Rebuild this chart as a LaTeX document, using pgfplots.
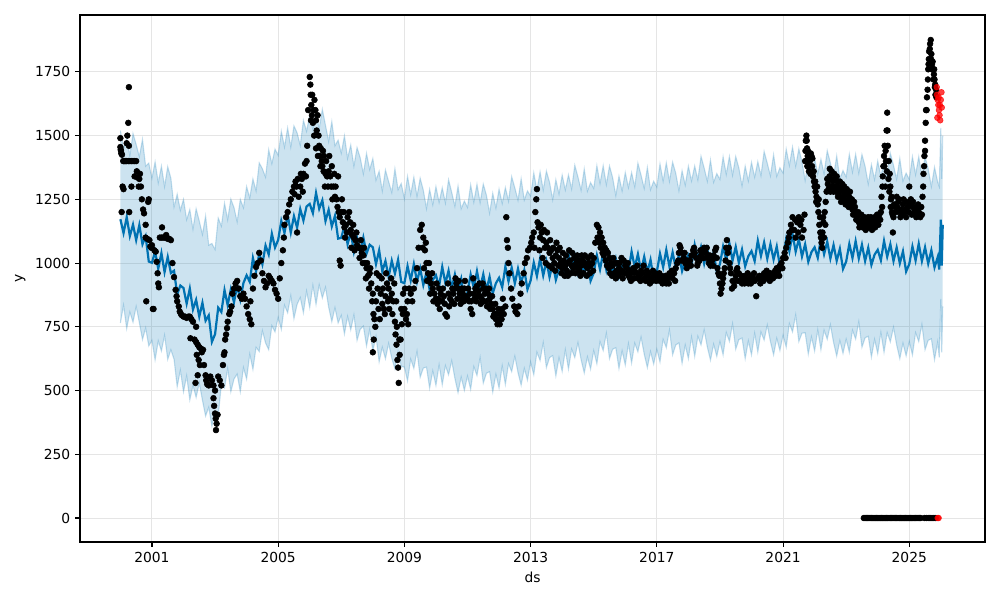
\documentclass[border=0pt]{standalone}
\usepackage{fontspec}
\setmainfont{DejaVu Sans}
\usepackage{pgfplots}
\usepackage{pgfplotstable}
\pgfplotsset{compat=1.18}
\usepgfplotslibrary{fillbetween}
\definecolor{fc}{HTML}{0072B2}

% forecast: yhat with lower / upper bounds
\pgfplotstableread{
ds yhat lo up
2000.0 1172 765 1520
2000.1 1118 835 1447
2000.2 1180 743 1490
2000.3 1106 808 1421
2000.4 1151 768 1508
2000.5 1090 830 1465
2000.6 1149 767 1417
2000.7 1074 700 1485
2000.8 1105 745 1380
2000.9 1006 675 1392
2001.0 1001 697 1333
2001.1 1045 620 1397
2001.2 978 695 1315
2001.3 1039 655 1380
2001.4 965 717 1300
2001.5 1024 622 1378
2001.6 961 660 1333
2001.7 970 623 1220
2001.8 877 515 1270
2001.9 912 580 1207
2002.0 902 495 1250
2002.1 841 558 1170
2002.2 900 463 1210
2002.3 818 520 1133
2002.4 856 473 1213
2002.5 790 530 1165
2002.6 844 462 1112
2002.7 774 400 1185
2002.8 795 435 1070
2002.9 691 360 1077
2003.0 721 417 1053
2003.1 825 400 1177
2003.2 808 525 1145
2003.3 894 510 1235
2003.4 835 587 1170
2003.5 897 495 1251
2003.6 846 545 1218
2003.7 912 565 1162
2003.8 857 495 1250
2003.9 922 590 1217
2004.0 952 545 1300
2004.1 926 643 1255
2004.2 1020 583 1330
2004.3 968 670 1283
2004.4 1036 653 1393
2004.5 995 735 1370
2004.6 1069 687 1337
2004.7 1034 660 1445
2004.8 1115 755 1390
2004.9 1061 730 1447
2005.0 1091 787 1423
2005.1 1165 740 1517
2005.2 1118 835 1455
2005.3 1189 805 1530
2005.4 1120 872 1455
2005.5 1184 782 1538
2005.6 1139 838 1511
2005.7 1212 865 1462
2005.8 1167 805 1560
2005.9 1222 890 1517
2006.0 1232 825 1580
2006.1 1196 913 1525
2006.2 1275 838 1585
2006.3 1213 915 1528
2006.4 1246 863 1603
2006.5 1165 905 1540
2006.6 1209 827 1477
2006.7 1144 770 1555
2006.8 1185 825 1460
2006.9 1096 765 1482
2007.0 1099 795 1431
2007.1 1147 722 1499
2007.2 1074 791 1411
2007.3 1122 738 1463
2007.4 1045 797 1380
2007.5 1099 697 1453
2007.6 1041 740 1413
2007.7 1100 753 1350
2007.8 1037 675 1430
2007.9 1072 740 1367
2008.0 1062 655 1410
2008.1 996 713 1325
2008.2 1050 613 1360
2008.3 968 670 1283
2008.4 1008 625 1365
2008.5 945 685 1320
2008.6 1009 627 1277
2008.7 959 585 1370
2008.8 1013 653 1288
2008.9 926 595 1312
2009.0 921 592 1253
2009.1 988 538 1340
2009.2 932 624 1269
2009.3 996 587 1337
2009.4 927 654 1262
2009.5 979 552 1333
2009.6 914 588 1286
2009.7 964 592 1214
2009.8 896 509 1289
2009.9 934 577 1229
2010.0 952 520 1300
2010.1 909 601 1238
2010.2 985 523 1295
2010.3 921 598 1236
2010.4 970 562 1327
2010.5 902 617 1277
2010.6 955 548 1223
2010.7 891 492 1302
2010.8 938 553 1213
2010.9 857 501 1243
2011.0 886 557 1218
2011.1 955 505 1307
2011.2 902 594 1239
2011.3 968 559 1309
2011.4 902 629 1237
2011.5 956 529 1310
2011.6 894 568 1266
2011.7 946 574 1196
2011.8 881 494 1274
2011.9 921 564 1216
2012.0 942 510 1290
2012.1 905 597 1234
2012.2 986 524 1296
2012.3 928 605 1243
2012.4 982 574 1339
2012.5 920 635 1295
2012.6 978 571 1246
2012.7 920 521 1331
2012.8 972 587 1247
2012.9 897 541 1283
2013.0 931 612 1263
2013.1 1002 562 1354
2013.2 949 651 1286
2013.3 1017 618 1358
2013.4 951 688 1286
2013.5 1007 590 1361
2013.6 945 629 1317
2013.7 999 637 1249
2013.8 934 557 1327
2013.9 976 629 1271
2014.0 997 575 1345
2014.1 958 660 1287
2014.2 1036 584 1346
2014.3 976 663 1291
2014.4 1027 629 1384
2014.5 963 688 1338
2014.6 1018 621 1286
2014.7 958 569 1369
2014.8 1007 632 1282
2014.9 930 584 1316
2015.0 961 657 1293
2015.1 1030 605 1382
2015.2 975 692 1312
2015.3 1041 657 1382
2015.4 973 725 1308
2015.5 1027 625 1381
2015.6 963 662 1335
2015.7 1015 668 1265
2015.8 948 586 1341
2015.9 988 656 1283
2016.0 1007 600 1355
2016.1 967 684 1296
2016.2 1045 608 1355
2016.3 984 686 1299
2016.4 1035 652 1392
2016.5 970 710 1345
2016.6 1025 643 1293
2016.7 964 590 1375
2016.8 1013 653 1288
2016.9 935 604 1321
2017.0 966 662 1298
2017.1 1037 612 1389
2017.2 984 701 1321
2017.3 1052 668 1393
2017.4 986 738 1321
2017.5 1042 640 1396
2017.6 980 679 1352
2017.7 1034 687 1284
2017.8 969 607 1362
2017.9 1011 679 1306
2018.0 1032 625 1380
2018.1 993 710 1322
2018.2 1071 634 1381
2018.3 1011 713 1326
2018.4 1062 679 1419
2018.5 998 738 1373
2018.6 1053 671 1321
2018.7 993 619 1404
2018.8 1042 682 1317
2018.9 965 634 1351
2019.0 996 692 1328
2019.1 1065 640 1417
2019.2 1011 728 1348
2019.3 1077 693 1418
2019.4 1010 762 1345
2019.5 1064 662 1418
2019.6 1001 700 1373
2019.7 1053 706 1303
2019.8 987 625 1380
2019.9 1027 695 1322
2020.0 1047 640 1395
2020.1 1008 725 1337
2020.2 1088 651 1398
2020.3 1028 730 1343
2020.4 1081 698 1438
2020.5 1017 757 1392
2020.6 1074 692 1342
2020.7 1014 640 1425
2020.8 1065 705 1340
2020.9 988 657 1374
2021.0 1021 717 1353
2021.1 1095 670 1447
2021.2 1046 763 1383
2021.3 1114 730 1455
2021.4 1045 797 1380
2021.5 1094 692 1448
2021.6 1026 725 1398
2021.7 1074 727 1324
2021.8 1005 643 1398
2021.9 1043 711 1338
2022.0 1062 655 1410
2022.1 1021 738 1350
2022.2 1097 660 1407
2022.3 1035 737 1350
2022.4 1084 701 1441
2022.5 1018 758 1393
2022.6 1071 689 1339
2022.7 1009 635 1420
2022.8 1056 696 1331
2022.9 977 646 1363
2023.0 1006 702 1338
2023.1 1075 650 1427
2023.2 1020 737 1357
2023.3 1086 702 1427
2023.4 1018 770 1353
2023.5 1072 670 1426
2023.6 1008 707 1380
2023.7 1060 713 1310
2023.8 993 631 1386
2023.9 1033 701 1328
2024.0 1052 645 1400
2024.1 1011 728 1340
2024.2 1087 650 1397
2024.3 1025 727 1340
2024.4 1074 691 1431
2024.5 1008 748 1383
2024.6 1061 679 1329
2024.7 999 625 1410
2024.8 1046 686 1321
2024.9 967 636 1353
2025.0 996 692 1328
2025.1 1065 640 1417
2025.2 1010 727 1347
2025.3 1076 692 1417
2025.4 1008 760 1343
2025.5 1062 660 1416
2025.6 998 697 1370
2025.7 1050 703 1300
2025.8 983 621 1376
2025.9 1023 691 1318
2025.95 975 630 1300
2026.00 1170 860 1530
2026.03 990 650 1330
2026.06 1150 830 1500
}\fcst

\begin{document}
\begin{tikzpicture}
\begin{axis}[
    scale only axis,
    width=9.05in, height=5.27in,
    xmin=1998.72, xmax=2027.4,
    ymin=-94, ymax=1973,
    xtick={2001,2005,...,2025},
    ytick={0,250,...,1750},
    /pgf/number format/1000 sep={},
    /pgf/number format/assume math mode=true,
    tick label style={font=\fontsize{10}{12}\selectfont},
    label style={font=\fontsize{10}{12}\selectfont},
    xlabel={ds}, ylabel={y},
    tick align=outside,
    xtick pos=bottom, ytick pos=left,
    major tick length=3.5pt,
    every tick/.style={black, line width=0.8pt},
    axis line style={line width=0.8pt},
    grid=major,
    major grid style={draw=black!10, line width=0.72pt},
]
% history
\addplot[only marks, mark=*, mark size=2.1pt, black] coordinates {
(2000.00,1490) (2000.00,1455) (2000.01,1445) (2000.02,1440) (2000.03,1430) (2000.05,1425) (2000.04,1200) (2000.07,1300) (2000.10,1290) (2000.09,1400) (2000.12,1400) (2000.16,1400)
(2000.20,1470) (2000.22,1500) (2000.25,1550) (2000.27,1690) (2000.27,1460) (2000.20,1400) (2000.25,1400) (2000.30,1400) (2000.35,1400) (2000.40,1400) (2000.45,1400) (2000.50,1400)
(2000.28,1200) (2000.35,1300) (2000.45,1340) (2000.52,1360) (2000.55,1335) (2000.60,1330) (2000.62,1350) (2000.58,1300) (2000.65,1300) (2000.68,1250) (2000.72,1210) (2000.75,1195)
(2000.80,1150) (2000.80,1100) (2000.85,1095) (2000.88,1240) (2000.90,1250) (2000.92,1090) (2000.82,850) (2000.95,1065) (2000.98,1060) (2001.00,1070) (2001.03,820) (2001.05,820)
(2001.08,1050) (2001.12,1045) (2001.15,1005) (2001.18,960) (2001.20,920) (2001.22,905) (2001.25,1100) (2001.30,1100) (2001.35,1100) (2001.40,1100) (2001.45,1110) (2001.32,1140)
(2001.50,1095) (2001.55,1095) (2001.60,1090) (2001.65,1000) (2001.70,945) (2001.75,895) (2001.78,870) (2001.80,850) (2001.85,830) (2001.88,810) (2001.92,800) (2001.95,795)
(2002.00,790) (2002.05,790) (2002.10,785) (2002.15,790) (2002.20,790) (2002.25,780) (2002.30,770) (2002.22,705) (2002.40,750) (2002.35,700) (2002.40,690) (2002.45,680)
(2002.50,670) (2002.55,665) (2002.42,640) (2002.48,620) (2002.52,600) (2002.38,530) (2002.45,560) (2002.58,650) (2002.62,660) (2002.65,600) (2002.70,560) (2002.72,540)
(2002.75,525) (2002.80,520) (2002.85,555) (2002.90,540) (2002.95,520) (2003.00,500) (2002.95,470) (2002.97,440) (2003.00,410) (2003.02,390) (2003.05,370) (2003.03,345)
(2003.08,405) (2003.10,555) (2003.15,540) (2003.20,520) (2003.25,600) (2003.28,640) (2003.30,650) (2003.32,700) (2003.35,720) (2003.38,745) (2003.40,770) (2003.45,800)
(2003.48,810) (2003.52,830) (2003.55,880) (2003.60,900) (2003.65,920) (2003.70,930) (2003.75,900) (2003.80,870) (2003.85,860) (2003.90,880) (2003.95,860) (2004.00,830)
(2004.05,800) (2004.10,780) (2004.15,760) (2004.12,850) (2004.20,900) (2004.25,950) (2004.30,985) (2004.35,1000) (2004.40,1040) (2004.45,1010) (2004.50,960) (2004.55,930)
(2004.60,905) (2004.65,920) (2004.70,950) (2004.75,940) (2004.80,930) (2004.85,920) (2004.90,895) (2004.95,880) (2005.00,860) (2005.05,940) (2005.10,1000) (2005.15,1050)
(2005.18,1100) (2005.20,1150) (2005.25,1180) (2005.30,1200) (2005.35,1230) (2005.40,1250) (2005.45,1280) (2005.50,1300) (2005.55,1320) (2005.58,1300) (2005.60,1120) (2005.65,1260)
(2005.70,1300) (2005.75,1330) (2005.80,1350) (2005.85,1390) (2005.90,1400) (2005.95,1600) (2006.00,1730) (2006.02,1700) (2006.03,1660) (2006.05,1620) (2006.07,1580) (2006.10,1550)
(2006.12,1600) (2006.15,1640) (2006.18,1600) (2006.20,1560) (2006.22,1520) (2006.25,1580) (2006.28,1500) (2006.30,1460) (2006.32,1420) (2006.35,1450) (2006.38,1400) (2006.40,1380)
(2006.42,1440) (2006.45,1420) (2006.50,1350) (2006.55,1340) (2006.60,1360) (2006.65,1340) (2006.70,1380) (2006.75,1300) (2006.80,1260) (2006.85,1250) (2006.90,1340) (2006.92,1200)
(2006.95,1180) (2007.00,1200) (2007.05,1160) (2007.10,1140) (2007.15,1150) (2007.20,1180) (2007.25,1200) (2007.30,1130) (2007.35,1110) (2007.40,1100) (2007.45,1090) (2006.95,1010)
(2006.98,990) (2007.50,1070) (2007.55,1060) (2007.60,1060) (2007.65,1040) (2007.70,1030) (2007.75,1000) (2007.80,980) (2007.85,950) (2007.90,960) (2007.95,920) (2008.00,880)
(2008.02,800) (2008.05,780) (2008.08,750) (2008.03,700) (2008.00,650) (2008.10,850) (2008.15,900) (2008.20,950) (2008.25,880) (2008.30,840) (2008.35,820) (2008.40,870)
(2008.45,920) (2008.50,900) (2008.55,860) (2008.60,880) (2008.65,850) (2008.70,770) (2008.72,720) (2008.75,680) (2008.78,620) (2008.80,590) (2008.82,530) (2008.85,640)
(2008.88,700) (2008.92,760) (2008.95,800) (2009.00,820) (2009.05,780) (2009.10,850) (2009.15,900) (2009.20,880) (2009.25,850) (2009.30,900) (2009.35,930) (2009.40,980)
(2009.45,1060) (2009.50,1130) (2009.55,1150) (2009.60,1100) (2009.65,1050) (2009.70,1000) (2009.75,960) (2009.80,940) (2009.85,920) (2009.90,900) (2009.95,880) (2010.00,860)
(2010.05,840) (2010.10,900) (2010.15,880) (2010.20,850) (2010.25,870) (2010.30,800) (2010.35,790) (2010.40,880) (2010.45,860) (2010.50,850) (2010.55,880) (2010.60,900)
(2010.65,920) (2010.70,900) (2010.75,880) (2010.80,860) (2010.85,880) (2010.90,900) (2010.95,870) (2011.00,860) (2011.05,850) (2011.10,820) (2011.15,800) (2011.20,880)
(2011.25,900) (2011.30,910) (2011.35,890) (2011.40,870) (2011.45,860) (2011.50,900) (2011.55,880) (2011.60,850) (2011.65,880) (2011.70,860) (2011.75,840) (2011.80,820)
(2011.85,800) (2011.90,780) (2011.95,760) (2012.00,780) (2012.05,800) (2012.10,820) (2012.15,800) (2012.20,830) (2012.23,1180) (2012.25,1090) (2012.28,1060) (2012.30,1000)
(2012.33,960) (2012.38,900) (2012.42,860) (2012.48,830) (2012.52,810) (2012.58,800) (2012.62,830) (2012.68,880) (2012.72,920) (2012.78,960) (2012.82,1000) (2012.88,1020)
(2012.92,1050) (2012.98,1060) (2013.02,1080) (2013.05,1100) (2013.10,1120) (2013.15,1200) (2013.18,1250) (2013.20,1290) (2013.22,1160) (2013.25,1140) (2013.30,1100) (2013.35,1120)
(2013.40,1090) (2013.45,1060) (2013.50,1080) (2013.55,1060) (2013.60,1040) (2013.65,1050) (2013.70,1020) (2013.75,1000) (2013.80,1030) (2013.85,1050) (2013.90,1020) (2013.95,1000)
(2014.00,980) (2014.05,1010) (2014.10,990) (2014.15,970) (2014.20,1000) (2014.25,1010) (2014.30,990) (2014.35,980) (2014.40,990) (2014.45,1000) (2014.50,980) (2014.55,970)
(2014.60,990) (2014.65,1010) (2014.70,1000) (2014.75,990) (2014.80,980) (2014.85,1000) (2014.90,990) (2014.95,1000) (2015.00,1020) (2015.05,1080) (2015.10,1150) (2015.15,1140)
(2015.20,1120) (2015.25,1100) (2015.30,1080) (2015.35,1060) (2015.40,1050) (2015.45,1040) (2015.50,1020) (2015.55,1000) (2015.60,990) (2015.65,960) (2015.70,940) (2015.75,1000)
(2015.80,980) (2015.85,960) (2015.90,970) (2015.95,1010) (2016.00,990) (2016.05,980) (2016.10,950) (2016.15,940) (2016.20,960) (2016.25,980) (2016.30,970) (2016.35,960)
(2016.40,940) (2016.45,950) (2016.50,970) (2016.55,960) (2016.60,940) (2016.65,930) (2016.70,950) (2016.75,960) (2016.80,940) (2016.85,930) (2016.90,950) (2016.95,960)
(2017.00,950) (2017.05,940) (2017.10,930) (2017.15,950) (2017.20,940) (2017.25,930) (2017.30,920) (2017.35,940) (2017.40,960) (2017.45,950) (2017.50,940) (2017.55,960)
(2017.60,980) (2017.65,1000) (2017.70,1040) (2017.75,1060) (2017.80,1040) (2017.85,1020) (2017.90,1000) (2017.95,980) (2018.00,990) (2018.05,1010) (2018.10,1030) (2018.15,1050)
(2018.20,1040) (2018.25,1020) (2018.30,1000) (2018.35,1010) (2018.40,1030) (2018.45,1050) (2018.50,1060) (2018.55,1040) (2018.60,1020) (2018.65,1000) (2018.70,990) (2018.75,1010)
(2018.80,1030) (2018.85,1050) (2018.90,1020) (2018.95,960) (2019.00,920) (2019.05,900) (2019.10,940) (2019.15,980) (2019.20,1060) (2019.22,1090) (2019.25,1040) (2019.30,1000)
(2019.35,960) (2019.40,930) (2019.45,910) (2019.50,950) (2019.55,980) (2019.60,960) (2019.65,930) (2019.70,920) (2019.75,940) (2019.80,950) (2019.85,930) (2019.90,920)
(2019.95,940) (2020.00,950) (2020.05,940) (2020.10,930) (2020.15,870) (2020.20,940) (2020.25,950) (2020.30,940) (2020.35,950) (2020.40,960) (2020.45,950) (2020.50,940)
(2020.55,950) (2020.60,960) (2020.65,950) (2020.70,960) (2020.75,970) (2020.80,980) (2020.85,970) (2020.90,990) (2020.95,1000) (2021.00,1020) (2021.05,1040) (2021.10,1060)
(2021.15,1080) (2021.20,1120) (2021.25,1150) (2021.30,1180) (2021.35,1130) (2021.40,1100) (2021.45,1160) (2021.50,1180) (2021.55,1150) (2021.60,1100) (2021.65,1130) (2021.68,1190)
(2021.70,1400) (2021.72,1480) (2021.74,1500) (2021.76,1450) (2021.78,1420) (2021.80,1380) (2021.82,1360) (2021.85,1400) (2021.88,1430) (2021.90,1420) (2021.92,1380) (2021.95,1340)
(2021.98,1320) (2022.00,1300) (2022.03,1280) (2022.06,1260) (2022.10,1230) (2022.12,1200) (2022.15,1150) (2022.18,1120) (2022.20,1100) (2022.22,1080) (2022.25,1120) (2022.28,1160)
(2022.32,1200) (2022.35,1240) (2022.38,1280) (2022.42,1310) (2022.45,1330) (2022.48,1370) (2022.52,1330) (2022.55,1300) (2022.58,1320) (2022.62,1350) (2022.65,1300) (2022.68,1280)
(2022.72,1320) (2022.75,1300) (2022.78,1280) (2022.82,1260) (2022.85,1290) (2022.88,1310) (2022.92,1280) (2022.95,1250) (2023.00,1270) (2023.05,1240) (2023.10,1260) (2023.15,1230)
(2023.20,1210) (2023.25,1240) (2023.30,1200) (2023.35,1180) (2023.40,1160) (2023.45,1150) (2023.50,1170) (2023.55,1160) (2023.60,1150) (2023.65,1170) (2023.70,1180) (2023.75,1160)
(2023.80,1150) (2023.85,1170) (2023.90,1180) (2023.95,1160) (2024.00,1170) (2024.05,1190) (2024.10,1200) (2024.12,1260) (2024.15,1300) (2024.18,1380) (2024.20,1420) (2024.22,1460)
(2024.25,1440) (2024.28,1520) (2024.30,1590) (2024.32,1460) (2024.35,1400) (2024.38,1350) (2024.40,1300) (2024.42,1250) (2024.45,1200) (2024.48,1120) (2024.50,1180) (2024.55,1220)
(2024.60,1260) (2024.65,1240) (2024.70,1200) (2024.75,1210) (2024.80,1230) (2024.85,1200) (2024.90,1180) (2024.95,1220) (2025.00,1300) (2025.05,1250) (2025.10,1220) (2025.15,1200)
(2025.20,1190) (2025.25,1210) (2025.30,1200) (2025.35,1180) (2025.40,1190) (2025.42,1260) (2025.45,1350) (2025.48,1420) (2025.50,1480) (2025.52,1550) (2025.55,1600) (2025.58,1680)
(2025.60,1760) (2025.62,1800) (2025.65,1840) (2025.68,1875) (2025.70,1820) (2025.72,1780) (2025.75,1760) (2025.78,1740) (2025.80,1720) (2025.82,1700) (2025.85,1680)
(2005.52,1270) (2005.62,1330) (2005.72,1350) (2005.78,1280) (2005.88,1340) (2005.92,1460) (2006.04,1560) (2006.08,1660) (2006.14,1500) (2006.20,1450) (2006.26,1420) (2006.34,1380)
(2006.44,1360) (2006.48,1300) (2006.52,1400) (2006.58,1300) (2006.62,1420) (2006.68,1300) (2006.72,1250) (2006.78,1350) (2006.82,1300) (2006.88,1220) (2007.02,1250) (2007.08,1200)
(2007.12,1100) (2007.18,1120) (2007.28,1160) (2007.32,1060) (2007.38,1150) (2007.42,1050) (2007.48,1120) (2007.58,1020) (2007.62,1090) (2007.68,1000) (2007.72,1060) (2007.78,940)
(2007.82,1000) (2007.88,900) (2007.92,980) (2007.98,850)
(2008.12,960) (2008.18,820) (2008.22,780) (2008.28,940) (2008.32,900) (2008.38,800) (2008.42,960) (2008.48,850) (2008.52,820) (2008.58,940) (2008.62,800) (2008.68,920)
(2008.74,850) (2008.76,750) (2008.84,700) (2008.90,820) (2008.96,880) (2009.02,900) (2009.08,800) (2009.12,760)
(2009.58,1060) (2009.62,980) (2009.68,1080) (2009.72,930) (2009.78,1000) (2009.82,880) (2009.88,960) (2009.92,850) (2010.02,920) (2010.08,860) (2010.12,820) (2010.22,900)
(2010.28,840) (2010.38,920) (2010.42,830) (2010.52,900) (2010.58,840) (2010.62,940) (2010.68,860) (2010.72,930) (2010.78,840) (2010.82,900) (2010.88,850) (2010.92,930)
(2011.02,900) (2011.08,880) (2011.12,850) (2011.18,940) (2011.22,860) (2011.28,850) (2011.32,870) (2011.38,920) (2011.42,840) (2011.48,920) (2011.52,850) (2011.58,900)
(2011.62,830) (2011.68,900) (2011.72,820) (2011.78,870) (2011.82,790) (2011.88,840) (2011.92,800) (2011.98,820) (2012.02,760) (2012.08,780) (2012.12,860)
(2013.12,1060) (2013.28,1050) (2013.32,1150) (2013.38,1020) (2013.42,1130) (2013.48,1000) (2013.52,1120) (2013.58,990) (2013.62,1090) (2013.68,980) (2013.72,1060) (2013.78,970)
(2013.82,1080) (2013.88,990) (2013.92,1060) (2013.98,960) (2014.02,1040) (2014.08,950) (2014.12,1030) (2014.18,950) (2014.22,1050) (2014.28,960) (2014.32,1040) (2014.38,1020)
(2014.42,960) (2014.48,1030) (2014.52,1010) (2014.58,950) (2014.62,1030) (2014.68,960) (2014.72,1030) (2014.78,950) (2014.82,1020) (2014.88,960) (2014.92,1030) (2014.98,970)
(2015.12,1100) (2015.18,1080) (2015.22,1060) (2015.28,1040) (2015.32,1030) (2015.38,1010) (2015.42,990) (2015.48,980) (2015.52,960) (2015.58,950) (2015.62,1020) (2015.68,1000)
(2015.72,970) (2015.78,950) (2015.82,1000) (2015.88,1020) (2015.92,940) (2015.98,960) (2016.08,1000) (2016.12,970) (2016.18,930) (2016.28,940) (2016.38,990) (2016.48,930)
(2016.58,990) (2016.68,970) (2016.78,920) (2016.88,970) (2016.98,930) (2017.08,960) (2017.18,920) (2017.28,950) (2017.38,920) (2017.48,970) (2017.58,930) (2017.68,1010)
(2017.72,1070) (2017.78,1010) (2017.88,1040) (2017.98,1010) (2018.08,990) (2018.18,1060) (2018.28,990) (2018.38,1050) (2018.48,1020) (2018.58,1060) (2018.68,1030) (2018.78,990)
(2018.88,1060) (2018.92,980) (2018.98,950) (2019.02,880) (2019.08,920) (2019.12,960) (2019.18,1010) (2019.28,1060) (2019.32,980) (2019.38,900) (2019.48,930) (2019.52,970)
(2019.58,930) (2019.68,950) (2019.78,920) (2019.88,960) (2019.98,920) (2020.08,960) (2020.28,920) (2020.38,930) (2020.48,970) (2020.58,930) (2020.68,940) (2020.78,950)
(2020.88,950) (2020.98,980) (2021.08,1020) (2021.18,1100) (2021.28,1130) (2021.38,1170) (2021.48,1120) (2021.58,1170)
(2021.71,1440) (2021.73,1400) (2021.75,1480) (2021.77,1380) (2021.79,1440) (2021.83,1420) (2021.87,1350) (2021.93,1410) (2021.97,1360) (2022.02,1320) (2022.05,1240) (2022.08,1300)
(2022.13,1250) (2022.17,1180) (2022.24,1060) (2022.27,1180) (2022.30,1100) (2022.34,1150) (2022.40,1330) (2022.44,1290) (2022.47,1340) (2022.50,1280) (2022.54,1360) (2022.60,1280)
(2022.64,1330) (2022.70,1340) (2022.74,1260) (2022.80,1320) (2022.84,1240) (2022.90,1260) (2022.94,1300) (2022.98,1230) (2023.02,1290) (2023.08,1220) (2023.12,1280) (2023.18,1250)
(2023.22,1190) (2023.28,1220) (2023.32,1170) (2023.38,1200) (2023.42,1140) (2023.48,1190) (2023.52,1140) (2023.58,1180) (2023.62,1130) (2023.68,1150) (2023.72,1140) (2023.78,1180)
(2023.82,1130) (2023.88,1150) (2023.92,1140) (2023.98,1190) (2024.02,1150) (2024.08,1170) (2024.14,1220) (2024.16,1340) (2024.21,1380) (2024.24,1300) (2024.26,1400) (2024.29,1360)
(2024.31,1520) (2024.34,1330) (2024.37,1280) (2024.41,1220) (2024.44,1260) (2024.47,1190) (2024.52,1230) (2024.58,1200) (2024.62,1220) (2024.68,1250) (2024.72,1180) (2024.78,1190)
(2024.82,1250) (2024.88,1210) (2024.92,1240) (2024.98,1200) (2025.02,1230) (2025.08,1190) (2025.12,1240) (2025.18,1220) (2025.22,1180) (2025.28,1230) (2025.32,1190) (2025.38,1220)
(2025.44,1300) (2025.47,1380) (2025.50,1440) (2025.53,1600) (2025.56,1650) (2025.59,1720) (2025.61,1780) (2025.63,1830) (2025.66,1860) (2025.69,1800) (2025.71,1760) (2025.74,1790)
(2025.77,1720) (2025.79,1760) (2025.81,1690) (2025.83,1660) (2025.86,1650)
(2023.56,0) (2023.60,0) (2023.64,0) (2023.68,0) (2023.72,0) (2023.76,0) (2023.80,0) (2023.84,0) (2023.88,0) (2023.92,0) (2023.96,0) (2024.00,0)
(2024.04,0) (2024.08,0) (2024.12,0) (2024.16,0) (2024.20,0) (2024.24,0) (2024.28,0) (2024.32,0) (2024.36,0) (2024.40,0) (2024.44,0) (2024.48,0)
(2024.52,0) (2024.56,0) (2024.60,0) (2024.64,0) (2024.68,0) (2024.72,0) (2024.76,0) (2024.80,0) (2024.84,0) (2024.88,0) (2024.92,0) (2024.96,0)
(2025.00,0) (2025.04,0) (2025.08,0) (2025.12,0) (2025.16,0) (2025.20,0) (2025.24,0) (2025.28,0) (2025.32,0) (2025.36,0) (2025.48,0) (2025.55,0)
(2025.62,0) (2025.66,0) (2025.72,0) (2025.78,0) (2025.84,0)
};
% forecast line
\addplot[fc, line width=1.6pt] table[x=ds, y=yhat] {\fcst};
% uncertainty interval
\addplot[name path=U, draw=fc, draw opacity=0.22, line width=0.8pt] table[x=ds, y=up] {\fcst};
\addplot[name path=L, draw=fc, draw opacity=0.22, line width=0.8pt] table[x=ds, y=lo] {\fcst};
\addplot[fill=fc, fill opacity=0.2, draw=none] fill between[of=U and L];
% test points
\addplot[only marks, mark=*, mark size=2.1pt, red, opacity=0.75] coordinates {
(2025.87,1690) (2025.88,1660) (2025.90,1640) (2025.92,1620) (2025.94,1600) (2025.96,1580) (2025.98,1560) (2026.00,1640)
(2026.02,1670) (2026.03,1610) (2025.89,1570) (2025.93,1650) (2025.97,1620) (2025.90,0) (2025.93,0)
};
\end{axis}
\pgfresetboundingbox
\path (-0.8in,-0.58in) rectangle (9.2in,5.42in);
\end{tikzpicture}
\end{document}
